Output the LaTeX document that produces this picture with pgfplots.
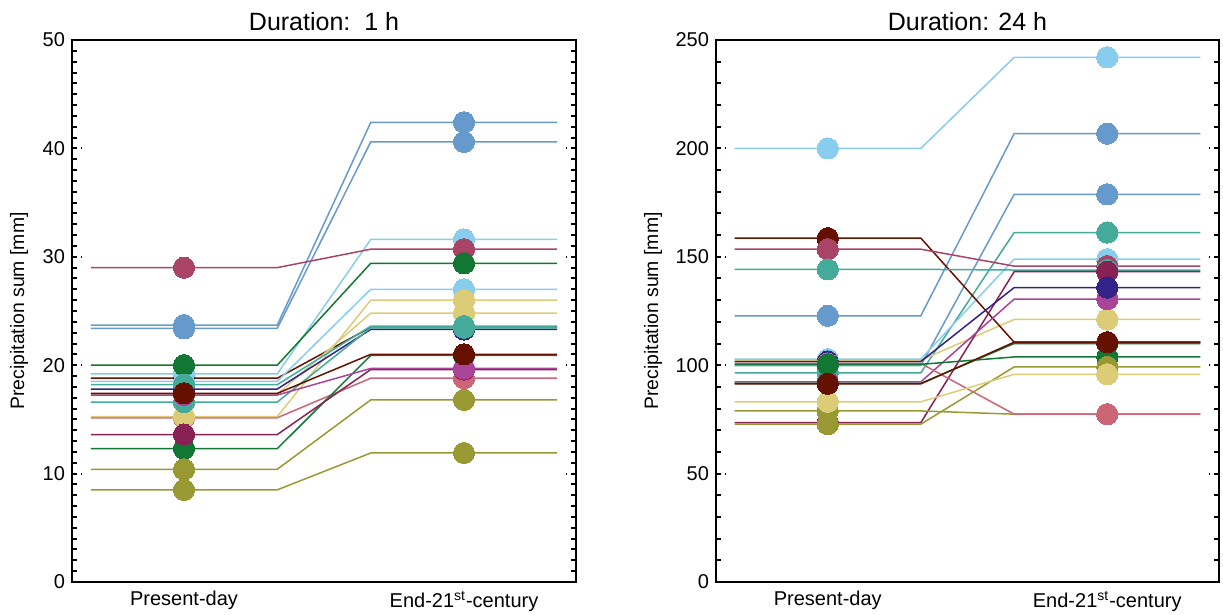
\documentclass[border=0pt]{standalone}
\usepackage{fontspec}
\setmainfont{Liberation Sans}
\usepackage{pgfplots}
\pgfplotsset{compat=1.18}

% Paul Tol's 12-colour palette
\definecolor{tindigo}{HTML}{332288}
\definecolor{tblue}{HTML}{6699CC}
\definecolor{tcyan}{HTML}{88CCEE}
\definecolor{tteal}{HTML}{44AA99}
\definecolor{tgreen}{HTML}{117733}
\definecolor{tolive}{HTML}{999933}
\definecolor{tsand}{HTML}{DDCC77}
\definecolor{tbrown}{HTML}{661100}
\definecolor{trose}{HTML}{CC6677}
\definecolor{troseb}{HTML}{AA4466}
\definecolor{twine}{HTML}{882255}
\definecolor{tpurple}{HTML}{AA4499}

% one series: colour, present-day value, end-21st-century value
\newcommand{\drawline}[3]{\addplot[no marks, line width=0.75pt, color=#1]
  coordinates {(0.667,#2) (1.333,#2) (1.667,#3) (2.333,#3)};}
\newcommand{\drawdot}[3]{\addplot[only marks, mark=*, mark size=5.3pt, color=#1,
  mark options={fill=#1, draw=#1, line width=0pt}]
  coordinates {(1,#2) (2,#3)};}

\newcommand{\onehour}{%
  \pair{tbrown}{18.8}{23.5}
  \pair{tblue}{23.7}{42.4}
  \pair{tblue}{23.4}{40.6}
  \pair{tcyan}{19.2}{31.6}
  \pair{tcyan}{18.5}{27.0}
  \pair{troseb}{29.0}{30.7}
  \pair{tgreen}{20.0}{29.4}
  \pair{trose}{15.15}{18.8}
  \pair{tsand}{15.25}{26.0}
  \pair{tsand}{17.3}{24.8}
  \pair{tindigo}{17.8}{23.3}
  \pair{tteal}{18.2}{23.6}
  \pair{tteal}{16.6}{23.45}
  \pair{tgreen}{12.3}{20.9}
  \pair{twine}{13.6}{19.6}
  \pair{tpurple}{17.25}{19.7}
  \pair{tbrown}{17.4}{21.0}
  \pair{tolive}{10.4}{16.8}
  \pair{tolive}{8.5}{11.9}
}

\newcommand{\oneday}{%
  \pair{tcyan}{200.0}{242.0}
  \pair{tblue}{122.8}{206.8}
  \pair{tblue}{99.8}{178.8}
  \pair{tteal}{96.5}{161.2}
  \pair{tsand}{102.3}{121.1}
  \pair{tcyan}{102.8}{148.9}
  \pair{tbrown}{158.6}{110.6}
  \pair{troseb}{153.5}{145.7}
  \pair{tteal}{144.2}{143.9}
  \pair{twine}{73.5}{143.1}
  \pair{tpurple}{92.3}{130.5}
  \pair{tindigo}{101.7}{135.8}
  \pair{tolive}{78.9}{77.4}
  \pair{trose}{100.8}{77.4}
  \pair{tgreen}{100.4}{103.8}
  \pair{tolive}{72.8}{99.2}
  \pair{tsand}{83.1}{95.8}
  \pair{tgreen}{91.6}{110.0}
  \pair{tbrown}{91.4}{110.6}
}

\pgfplotsset{
  panel/.style={
    scale only axis,
    width=252pt, height=271pt,
    xmin=0.6, xmax=2.4,
    xtick={1,2},
    xticklabels={Present-day, End-21\textsuperscript{st}-century},
    xtick style={draw=none},
    x tick label style={yshift=-1pt},
    tick align=inside,
    ytick pos=both,
    major tick length=5pt,
    minor tick length=2.6pt,
    ytick style={line width=1pt, black},
    major tick style={dash pattern=on 2.6pt off 1.8pt on 0.6pt off 5pt},
    axis line style={line width=1pt},
    tick label style={font=\fontsize{10}{12}\selectfont},
    /pgf/number format/assume math mode=true,
    ylabel={Precipitation sum [mm]},
    ylabel style={font=\fontsize{9.7}{12}\selectfont, anchor=center},
    title style={font=\fontsize{12.5}{15}\selectfont, yshift=-5pt},
  },
}

\begin{document}
\begin{tikzpicture}
\useasboundingbox (0,0) rectangle (611.5pt,307.5pt);

\begin{axis}[panel,
  at={(36pt,16.5pt)}, anchor=south west,
  ymin=0, ymax=50, ytick={0,10,20,30,40,50}, minor y tick num=9,
  ylabel style={at={(axis description cs:-0.105,0.5)}},
  title={Duration:\ \ 1 h},
]
\let\pair\drawline \onehour
\let\pair\drawdot \onehour
\end{axis}

\begin{axis}[panel,
  at={(358pt,16.5pt)}, anchor=south west, width=251.5pt,
  ymin=0, ymax=250, ytick={0,50,100,150,200,250}, minor y tick num=4,
  ylabel style={at={(axis description cs:-0.125,0.5)}},
  title={Duration: 24 h},
]
\let\pair\drawline \oneday
\let\pair\drawdot \oneday
\end{axis}
\end{tikzpicture}
\end{document}
